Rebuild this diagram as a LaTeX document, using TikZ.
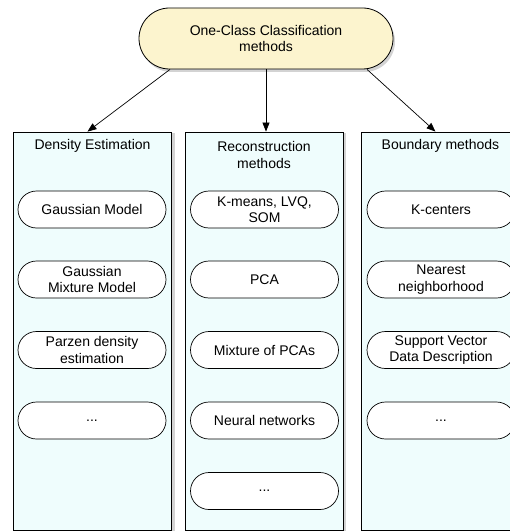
\documentclass[tikz,border=0pt]{standalone}
\usepackage{fontspec}
\setmainfont{Liberation Sans}
\usetikzlibrary{shapes.misc,shadows,arrows.meta}

\definecolor{rootfill}{RGB}{252,244,206}
\definecolor{colfill}{RGB}{239,253,253}

\begin{document}
\begin{tikzpicture}[x=1pt,y=-1pt,
    every node/.style={font=\fontsize{14}{16.5}\selectfont, align=center},
    root/.style={rounded rectangle, draw, line width=0.8pt, fill=rootfill,
        minimum width=254pt, minimum height=61pt, inner sep=0pt,
        drop shadow={shadow xshift=2pt, shadow yshift=-3pt, opacity=0.35}},
    column/.style={draw, line width=0.8pt, fill=colfill,
        minimum width=158pt, minimum height=398pt, inner sep=0pt,
        drop shadow={shadow xshift=3pt, shadow yshift=-1pt, opacity=0.35}},
    method/.style={rounded rectangle, draw, line width=0.7pt, fill=white,
        minimum width=148pt, minimum height=37pt, inner sep=0pt},
    arr/.style={-{Triangle[length=9pt,width=7pt]}, line width=0.7pt}]

    \useasboundingbox (0,0) rectangle (510,532);
    \clip (0,0) rectangle (510,532);

    % the three families
    \node[column] (dens) at (92.5,331) {};
    \node[column] (recon) at (264,331) {};
    \node[column] (bound) at (440.5,331) {};

    \node (densT) at (92.5,146) {Density Estimation};
    \node (reconT) at (264,155) {Reconstruction\\methods};
    \node (boundT) at (440.5,146) {Boundary methods};

    % root
    \node[root] (root) at (266,38.5) {One-Class Classification\\methods};

    \draw[arr] ([xshift=-96pt]root.south) -- ([xshift=-5pt]dens.north);
    \draw[arr] (root.south) -- (root.south |- recon.north);
    \draw[arr] ([xshift=101pt]root.south) -- ([xshift=-5pt]bound.north);

    % density estimation
    \node[method] (gauss) at (92,209.5) {Gaussian Model};
    \node[method] (mog) at (92,279.5) {Gaussian\\Mixture Model};
    \node[method] (parzen) at (92,350) {Parzen density\\estimation};
    \node[method] (densM) at (92,420.5) {...};

    % reconstruction
    \node[method] (kmeans) at (264.5,209.5) {K-means, LVQ,\\SOM};
    \node[method] (pca) at (264.5,279.5) {PCA};
    \node[method] (mpca) at (264.5,350) {Mixture of PCAs};
    \node[method] (nn) at (264.5,420.5) {Neural networks};
    \node[method] (reconM) at (264.5,491) {...};

    % boundary
    \node[method] (kcent) at (441,209.5) {K-centers};
    \node[method] (nnb) at (441,279.5) {Nearest\\neighborhood};
    \node[method] (svdd) at (441,350) {Support Vector\\Data Description};
    \node[method] (boundM) at (441,420.5) {...};
\end{tikzpicture}
\end{document}
